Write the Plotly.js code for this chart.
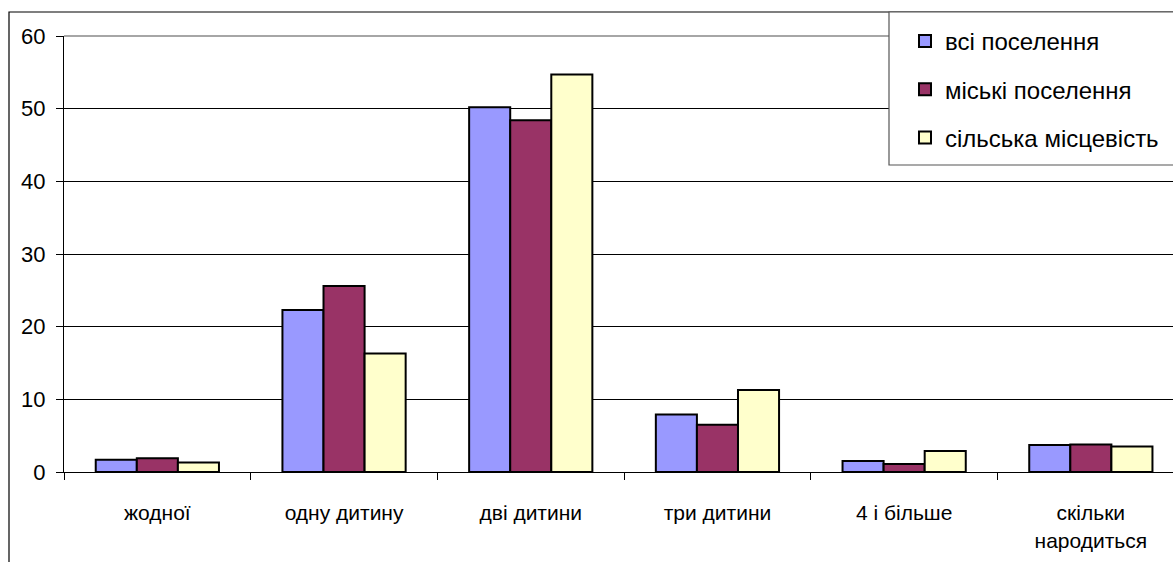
<!DOCTYPE html>
<html>
<head>
<meta charset="utf-8">
<script src="https://cdn.plot.ly/plotly-3.0.1.min.js"></script>
<style>html,body{margin:0;padding:0;background:#fff;}#chart{width:1173px;height:562px;}</style>
</head>
<body>
<div id="chart"></div>
<script>
const categories = ["жодної", "одну дитину", "дві дитини", "три дитини", "4 і більше", "скільки<br>народиться"];
const seriesNames = ["всі поселення", "міські поселення", "сільська місцевість"];
const allSettlements = [1.7, 22.3, 50.2, 7.9, 1.5, 3.7];
const urbanSettlements = [1.9, 25.6, 48.4, 6.5, 1.1, 3.8];
const ruralArea = [1.3, 16.3, 54.7, 11.3, 2.9, 3.5];
const yTicks = [0, 10, 20, 30, 40, 50, 60];

const colors = ["#9999FF", "#993366", "#FFFFCC"];
const seriesValues = [allSettlements, urbanSettlements, ruralArea];

const traces = seriesValues.map((vals, i) => ({
  type: "bar",
  name: seriesNames[i],
  x: categories,
  y: vals,
  legendgroup: "g" + i,
  marker: { color: colors[i], line: { color: "#000", width: 2 } },
  hoverinfo: "x+y+name"
}));

// pixel helpers for paper coords (plot area: left 64, right 1173, top 36, bottom 472)
const L = 64, R = 1173, T = 36, B = 472;
const px = v => (v - L) / (R - L);
const py = v => (B - v) / (B - T);

const font = "Liberation Sans, Arial, sans-serif";

const layout = {
  width: 1173,
  height: 562,
  margin: { l: L, r: 1173 - R, t: T, b: 562 - B, pad: 0 },
  paper_bgcolor: "#fff",
  plot_bgcolor: "#fff",
  barmode: "group",
  bargap: 0.34,
  bargroupgap: 0,
  showlegend: true,
  font: { family: font, size: 21, color: "#000" },
  xaxis: {
    type: "category",
    range: [-0.5, 5.44],
    showline: true,
    linecolor: "#000",
    linewidth: 1,
    ticks: "outside",
    tickson: "boundaries",
    ticklen: 7,
    tickcolor: "#000",
    showgrid: false,
    zeroline: false,
    tickfont: { family: font, size: 21, color: "#000" },
    ticklabelstandoff: 22,
    fixedrange: true
  },
  yaxis: {
    range: [0, 60],
    tickvals: yTicks,
    ticktext: yTicks.map(String),
    showline: true,
    linecolor: "#000",
    linewidth: 1,
    ticks: "outside",
    ticklen: 7,
    tickcolor: "#000",
    showgrid: true,
    gridcolor: "#000",
    gridwidth: 1,
    zeroline: false,
    tickfont: { family: font, size: 22, color: "#000" },
    ticklabelstandoff: 6,
    fixedrange: true
  },
  legend: {
    x: px(905),
    xanchor: "left",
    y: py(19),
    yanchor: "top",
    bgcolor: "rgba(0,0,0,0)",
    borderwidth: 0,
    tracegroupgap: 14,
    font: { family: font, size: 24, color: "#000" },
    traceorder: "grouped"
  },
  shapes: [
    // outer chart frame
    { type: "rect", xref: "paper", yref: "paper", x0: px(9), x1: px(1190), y0: py(600), y1: py(12),
      line: { color: "#000", width: 1.2 }, fillcolor: "rgba(0,0,0,0)", layer: "above" },
    // top plot border (gray)
    { type: "line", xref: "paper", yref: "paper", x0: 0, x1: 1, y0: 1, y1: 1,
      line: { color: "#888", width: 1.5 }, layer: "above" },
    // legend box
    { type: "rect", xref: "paper", yref: "paper", x0: px(889), x1: px(1190), y0: py(165), y1: py(12),
      line: { color: "#555", width: 1.2 }, fillcolor: "#fff", layer: "above" }
  ]
};

Plotly.newPlot("chart", traces, layout, { displayModeBar: false, staticPlot: true });
</script>
</body>
</html>
